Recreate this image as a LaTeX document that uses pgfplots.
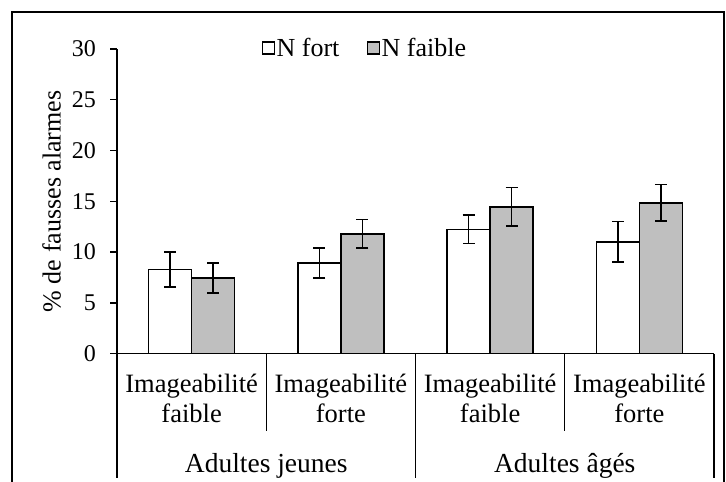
\documentclass[border=0pt]{standalone}
\usepackage{fontspec}
\setmainfont{Liberation Serif}
\usepackage{pgfplots}
\usepackage{pgfplotstable}
\pgfplotsset{compat=1.18}
\definecolor{barGray}{HTML}{BFBFBF}

\pgfplotstableread{
x y e
0 8.27 1.73
1 8.92 1.48
2 12.23 1.40
3 11.02 2.00
}\fort
\pgfplotstableread{
x y e
0 7.45 1.50
1 11.80 1.40
2 14.45 1.90
3 14.84 1.80
}\faible

\newcommand{\catfont}{\fontsize{26.5bp}{30bp}\selectfont}
\begin{document}
\begin{tikzpicture}[x=1bp,y=1bp]
\useasboundingbox (0,0) rectangle (726,482);
\draw[line width=1.5bp] (12,0) -- (12,470) -- (724,470) -- (724,0);
\begin{axis}[
  at={(117bp,128.3bp)}, anchor=south west,
  scale only axis, width=597bp, height=304.7bp,
  xmin=-0.5, xmax=3.5, ymin=0, ymax=30,
  ytick={0,5,...,30}, xtick=\empty,
  axis x line*=bottom, axis y line*=left,
  axis line style={line width=1.4bp, -},
  tick align=outside, major tick length=7bp,
  tick style={line width=1.4bp, black},
  ybar=0pt, bar width=43bp,
  clip=false,
  yticklabel style={font=\fontsize{24bp}{28bp}\selectfont, /pgf/number format/assume math mode=true, anchor=east, inner sep=0pt, xshift=-14bp},
  ylabel={\% de fausses alarmes},
  every axis y label/.style={at={(axis description cs:-0.1094,0.5)}, anchor=center, rotate=90, font=\fontsize{26bp}{30bp}\selectfont},
  legend style={at={(axis description cs:0.415,1.003)}, anchor=center, draw=none, fill=none,
    font=\fontsize{26bp}{30bp}\selectfont, legend columns=2, nodes={inner sep=1.5bp},
    /tikz/every even column/.append style={column sep=26bp}},
  mylegend/.style={legend image code/.code={\draw[##1,/tikz/.cd,line width=1.2bp] (0bp,-6bp) rectangle (12bp,6bp);}},
]
\addplot[fill=white, draw=black, line width=1.5bp, mylegend,
  error bars/.cd, y dir=both, y explicit,
  error bar style={line width=1.6bp, black},
  error mark options={rotate=90, mark size=6bp, line width=1.6bp, black}]
  table[x=x, y=y, y error=e] {\fort};
\addlegendentry{N fort}
\addplot[fill=barGray, draw=black, line width=1.5bp, mylegend,
  error bars/.cd, y dir=both, y explicit,
  error bar style={line width=1.6bp, black},
  error mark options={rotate=90, mark size=6bp, line width=1.6bp, black}]
  table[x=x, y=y, y error=e] {\faible};
\addlegendentry{N faible}

% category separators
\draw[line width=1.4bp] (axis cs:0.5,0) -- ([yshift=-77bp]axis cs:0.5,0);
\draw[line width=1.4bp] (axis cs:2.5,0) -- ([yshift=-77bp]axis cs:2.5,0);
\draw[line width=1.4bp] (axis cs:-0.5,0) -- ([yshift=-124.3bp]axis cs:-0.5,0);
\draw[line width=1.4bp] (axis cs:1.5,0) -- ([yshift=-124.3bp]axis cs:1.5,0);
\draw[line width=1.4bp] (axis cs:3.5,0) -- ([yshift=-124.3bp]axis cs:3.5,0);
% category labels
\node[anchor=base, inner sep=0pt, font=\catfont] at ([yshift=-39bp]axis cs:0,0) {Imageabilité};
\node[anchor=base, inner sep=0pt, font=\catfont] at ([yshift=-68.5bp]axis cs:0,0) {faible};
\node[anchor=base, inner sep=0pt, font=\catfont] at ([yshift=-39bp]axis cs:1,0) {Imageabilité};
\node[anchor=base, inner sep=0pt, font=\catfont] at ([yshift=-68.5bp]axis cs:1,0) {forte};
\node[anchor=base, inner sep=0pt, font=\catfont] at ([yshift=-39bp]axis cs:2,0) {Imageabilité};
\node[anchor=base, inner sep=0pt, font=\catfont] at ([yshift=-68.5bp]axis cs:2,0) {faible};
\node[anchor=base, inner sep=0pt, font=\catfont] at ([yshift=-39bp]axis cs:3,0) {Imageabilité};
\node[anchor=base, inner sep=0pt, font=\catfont] at ([yshift=-68.5bp]axis cs:3,0) {forte};
\node[anchor=base, inner sep=0pt, font=\fontsize{27.5bp}{30bp}\selectfont] at ([yshift=-119bp]axis cs:0.5,0) {Adultes jeunes};
\node[anchor=base, inner sep=0pt, font=\fontsize{27.5bp}{30bp}\selectfont] at ([yshift=-119bp]axis cs:2.5,0) {Adultes âgés};
\end{axis}
\end{tikzpicture}
\end{document}
